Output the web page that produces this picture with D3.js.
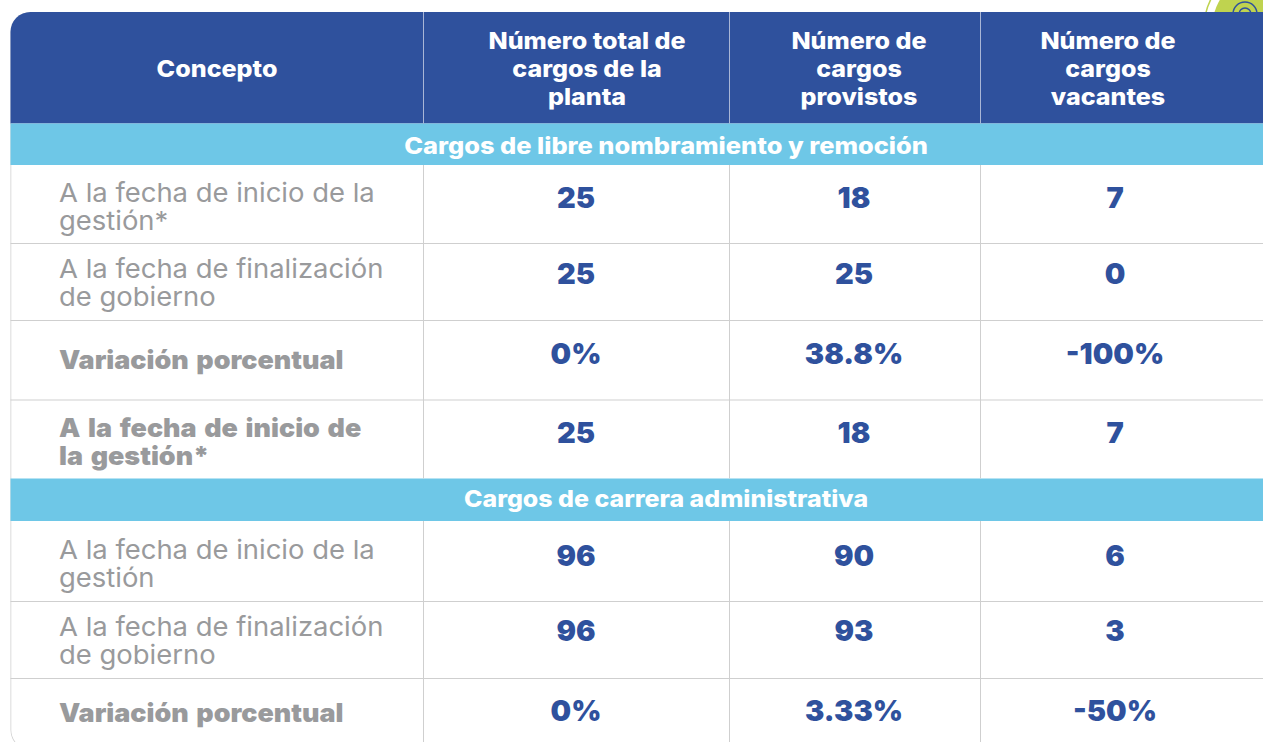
<!DOCTYPE html>
<html>
<head>
<meta charset="utf-8">
<script src="https://cdn.jsdelivr.net/npm/d3@7"></script>
<style>
  html, body { margin: 0; padding: 0; background: #fff; overflow: hidden; }
  text { font-family: Inter, "DejaVu Sans", sans-serif; }
</style>
</head>
<body>
<div id="chart"></div>
<script>
// table content
var headers = [["Concepto"], ["Número total de", "cargos de la", "planta"], ["Número de", "cargos", "provistos"], ["Número de", "cargos", "vacantes"]];
var sections = ["Cargos de libre nombramiento y remoción", "Cargos de carrera administrativa"];
var concepts1 = [["A la fecha de inicio de la", "gestión*"], ["A la fecha de finalización", "de gobierno"], ["Variación porcentual"], ["A la fecha de inicio de", "la gestión*"]];
var concepts2 = [["A la fecha de inicio de la", "gestión"], ["A la fecha de finalización", "de gobierno"], ["Variación porcentual"]];
var boldRows = ["Variación porcentual", "A la fecha de inicio de"];
var total1 = ["25", "25", "0%", "25"];
var provistos1 = ["18", "25", "38.8%", "18"];
var vacantes1 = ["7", "0", "-100%", "7"];
var total2 = ["96", "96", "0%"];
var provistos2 = ["90", "93", "3.33%"];
var vacantes2 = ["6", "3", "-50%"];

// layout
var svgWidth = 1263, svgHeight = 742;
var colEdges = [10.5, 423, 729, 980];
var rowLines = [243.5, 320.5, 400, 601.5, 678.5];
var bands = [[123.5, 165], [478.5, 521]];
var valueX = [576, 854, 1115];
var headX = [217, 587, 859, 1108];
var blue = "#2F519D", sky = "#6EC7E7", grey = "#999a9c", line = "#cfcfcf", green = "#BFD34F";

var svg = d3.select("#chart").append("svg")
    .attr("width", svgWidth)
    .attr("height", svgHeight)
    .style("display", "block");

// corner of the green badge behind the table
var badge = svg.append("g");
badge.append("circle").attr("cx", 1270).attr("cy", 29).attr("r", 66).attr("fill", "#fff").attr("stroke", green).attr("stroke-width", 1.5);
badge.append("circle").attr("cx", 1270).attr("cy", 29).attr("r", 58).attr("fill", green);
badge.append("circle").attr("cx", 1245).attr("cy", 14).attr("r", 12).attr("fill", "none").attr("stroke", blue).attr("stroke-width", 1.5);
badge.append("circle").attr("cx", 1245).attr("cy", 14).attr("r", 6).attr("fill", "none").attr("stroke", blue).attr("stroke-width", 1.5);

// clip for the rounded table
svg.append("defs").append("clipPath").attr("id", "tableClip").append("rect")
    .attr("x", colEdges[0]).attr("y", 12).attr("width", 1300).attr("height", 738).attr("rx", 20);

var table = svg.append("g").attr("clip-path", "url(#tableClip)");
table.append("rect").attr("x", 0).attr("y", 0).attr("width", svgWidth + 40).attr("height", 760).attr("fill", "#fff");

// outer outline goes under the coloured bands
table.append("rect").attr("x", colEdges[0]).attr("y", 12).attr("width", 1300).attr("height", 738)
    .attr("rx", 20).attr("fill", "none").attr("stroke", line).attr("stroke-width", 1.5);

table.append("rect").attr("x", 0).attr("y", 12).attr("width", svgWidth + 40).attr("height", 111.5).attr("fill", blue);

table.selectAll("rect.band").data(bands).enter().append("rect")
    .attr("class", "band")
    .attr("x", 0).attr("y", d => d[0])
    .attr("width", svgWidth + 40).attr("height", d => d[1] - d[0])
    .attr("fill", sky);

// row lines
table.selectAll("line.row").data(rowLines).enter().append("line")
    .attr("class", "row")
    .attr("x1", 0).attr("x2", svgWidth + 40)
    .attr("y1", d => d).attr("y2", d => d)
    .attr("stroke", line);

// column lines, one piece per block of rows
colEdges.slice(1).forEach(function(x) {
    [[12, 123.5, "#a9b6d6"], [165, 478.5, line], [521, 750, line]].forEach(function(seg) {
        table.append("line").attr("x1", x + 0.5).attr("x2", x + 0.5).attr("y1", seg[0]).attr("y2", seg[1]).attr("stroke", seg[2]);
    });
});

// the reference face is wider than any installed one, so text is stretched sideways.
// lines is an array: every line becomes a tspan of one text element
function label(x, y, lines, lineGap, size, weight, fill, anchor, stretch) {
    var t = svg.append("text")
        .attr("transform", `translate(${x}, ${y}) scale(${stretch}, 1)`)
        .attr("text-anchor", anchor)
        .attr("font-size", size)
        .attr("font-weight", weight)
        .attr("fill", fill);
    t.selectAll("tspan").data(lines).enter().append("tspan")
        .attr("x", 0)
        .attr("dy", (d, i) => i == 0 ? 0 : lineGap)
        .text(d => d);
    return t;
}

// header text
headers.forEach(function(lines, i) {
    label(headX[i], 77 - (lines.length - 1) * 14, lines, 28, 23, 800, "#fff", "middle", 1.09);
});

// section titles
sections.forEach(function(t, i) {
    label(666, [154, 507][i], [t], 0, 23, 800, "#fff", "middle", [1.105, 1.085][i]);
});

function drawRows(concepts, cols, textY, valueY) {
    concepts.forEach(function(lines, r) {
        var bold = boldRows.indexOf(lines[0]) >= 0;
        label(59, textY[r], lines, 28, 26, bold ? 900 : 400, grey, "start", bold ? 1.035 : 1.055)
            .attr("word-spacing", bold ? 2.2 : 0);
        cols.forEach(function(col, c) {
            label(valueX[c], valueY[r], [col[r]], 0, 29, 900, blue, "middle", 1);
        });
    });
}

drawRows(concepts1, [total1, provistos1, vacantes1], [202, 278, 369, 437], [208, 284, 364, 443]);
drawRows(concepts2, [total2, provistos2, vacantes2], [559, 636, 722], [566, 641, 721]);
</script>
</body>
</html>
